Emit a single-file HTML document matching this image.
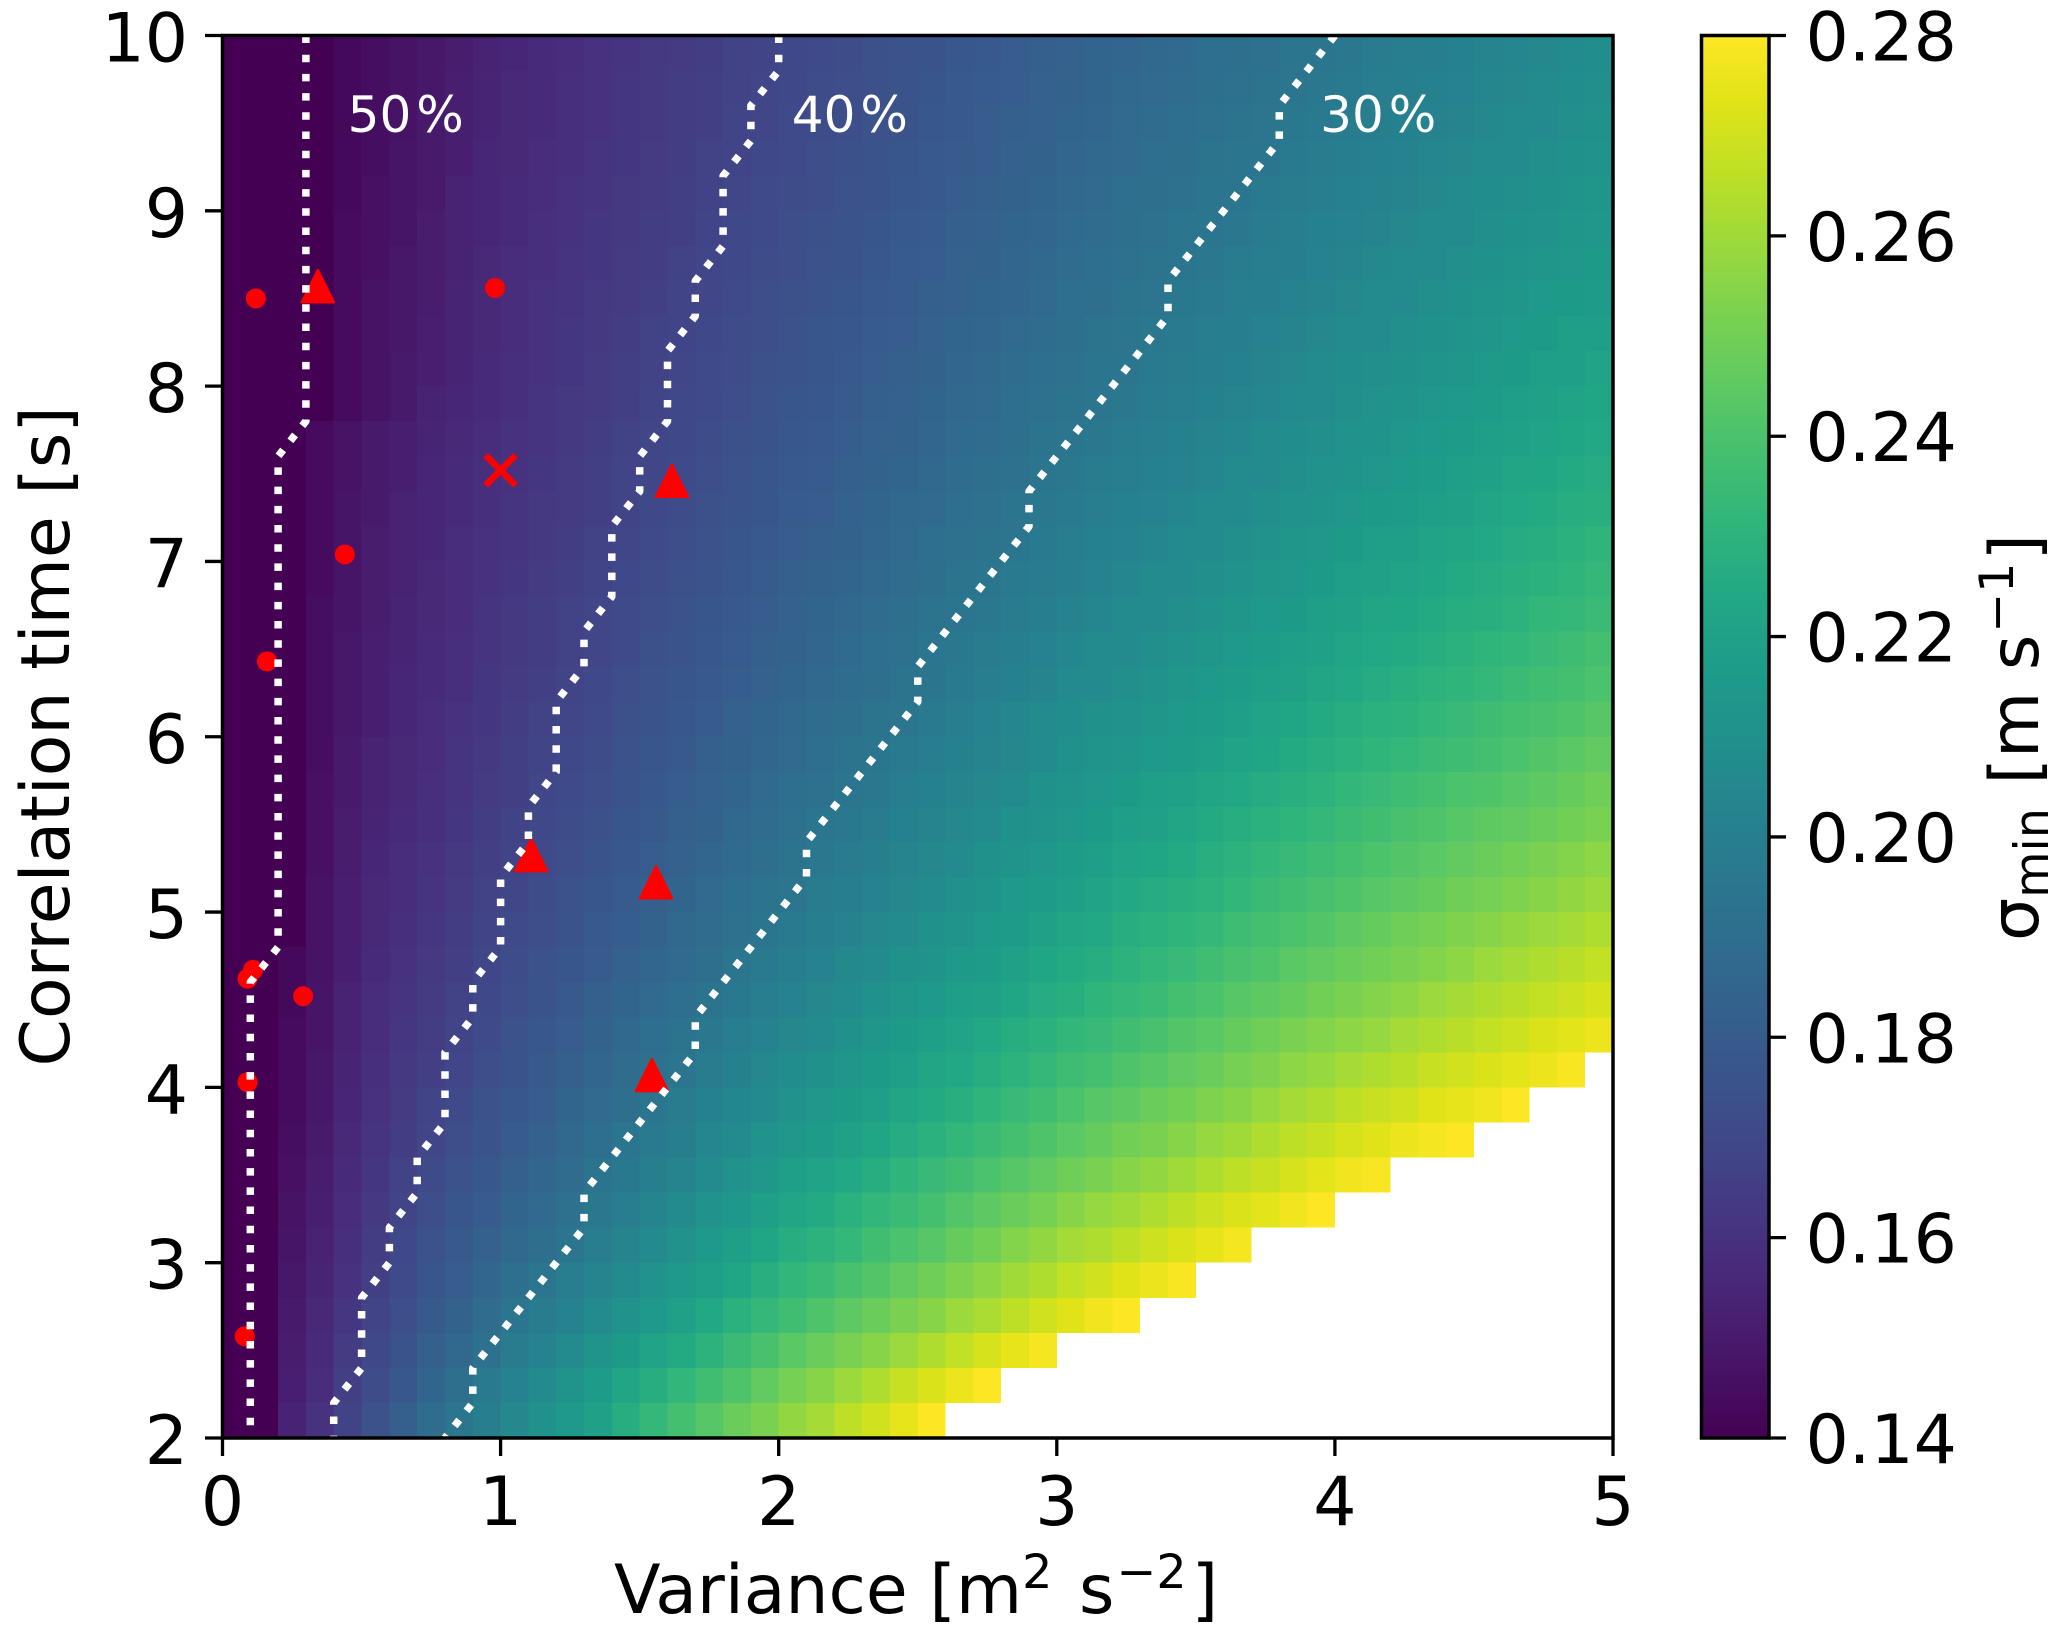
<!DOCTYPE html>
<html lang="en">
<head>
<meta charset="utf-8">
<title>Minimum sigma heatmap</title>
<style>
html,body{margin:0;padding:0;background:#fff;}
svg{display:block;font-family:"DejaVu Sans","Liberation Sans",sans-serif;}
</style>
</head>
<body>
<svg id="chart" xmlns="http://www.w3.org/2000/svg" width="2067" height="1637" viewBox="0 0 2067 1637">
  <rect x="0" y="0" width="2067" height="1637" fill="#fff"/>
  <defs>
    <linearGradient id="viridis-gradient" x1="0" y1="1" x2="0" y2="0"></linearGradient>
    <clipPath id="plot-clip"><rect x="222.5" y="35.5" width="1390.5" height="1402.5"/></clipPath>
  </defs>
  <g id="heatmap" shape-rendering="crispEdges"></g>
  <g id="markers" clip-path="url(#plot-clip)"></g>
  <g id="contours" clip-path="url(#plot-clip)"></g>
  <g id="contour-labels"></g>
  <rect x="222.5" y="35.5" width="1390.5" height="1402.5" fill="none" stroke="#000" stroke-width="3.5"/>
  <g id="x-axis"></g>
  <g id="y-axis"></g>
  <text x="614" y="1613" font-size="68" fill="#000">Variance [m<tspan font-size="47.6" dy="-25">2</tspan><tspan dy="25" dx="5"> s</tspan><tspan font-size="47.6" dy="-25" dx="2">−2</tspan><tspan dy="25" dx="5">]</tspan></text>
  <text transform="translate(69,1066.5) rotate(-90)" font-size="68" fill="#000">Correlation time [s]</text>
  <rect x="1701.5" y="35.5" width="67.5" height="1402.5" fill="url(#viridis-gradient)" stroke="#000" stroke-width="3.5"/>
  <g id="colorbar-axis"></g>
  <text transform="translate(2038,941) rotate(-90)" font-size="68" fill="#000">σ<tspan font-size="47.6" dy="10">min</tspan><tspan dy="-10" dx="2"> [m s</tspan><tspan font-size="47.6" dy="-25" dx="2">−1</tspan><tspan dy="25" dx="2">]</tspan></text>
</svg>
<script>
const varianceTicks = [0, 1, 2, 3, 4, 5];
const correlationTicks = [2, 3, 4, 5, 6, 7, 8, 9, 10];
const colorbarTicks = [0.14, 0.16, 0.18, 0.20, 0.22, 0.24, 0.26, 0.28];
const varianceBinStart = 0;
const varianceBinWidth = 0.1;
const correlationBinHeight = 0.2;
const correlationBinStarts = [9.8,9.6,9.4,9.2,9,8.8,8.6,8.4,8.2,8,7.8,7.6,7.4,7.2,7,6.8,6.6,6.4,6.2,6,5.8,5.6,5.4,5.2,5,4.8,4.6,4.4,4.2,4,3.8,3.6,3.4,3.2,3,2.8,2.6,2.4,2.2,2];
/* sigma_min in 10^-3 m/s, one row per correlation-time bin, top row first; short rows = no data */
const sigmaMinRows = [
[140,140,140,140,143,145,147,149,151,153,155,157,158,160,161,163,164,165,167,168,170,171,172,174,175,176,178,179,181,182,183,185,186,187,188,190,191,192,194,195,196,198,199,200,201,203,204,205,206,208],
[140,140,140,140,143,145,147,149,152,154,156,157,159,160,162,163,165,166,167,169,170,172,173,174,176,177,179,180,181,183,184,185,187,188,189,191,192,193,195,196,197,199,200,201,202,204,205,206,208,209],
[140,140,140,140,143,145,147,150,152,154,156,157,159,160,162,163,165,166,168,169,171,172,173,175,176,178,179,181,182,183,185,186,188,189,190,192,193,195,196,197,198,200,201,202,203,205,206,207,209,210],
[140,140,140,140,143,145,148,150,152,155,156,158,159,161,162,164,165,167,168,170,171,173,174,176,177,179,180,181,183,184,186,187,188,190,191,193,194,195,197,198,200,201,202,204,205,206,207,209,210,211],
[140,140,140,140,143,146,148,150,153,155,157,158,160,161,163,164,166,167,169,171,172,173,175,176,178,179,181,182,184,185,187,188,190,191,192,194,195,197,198,199,201,202,203,205,206,208,209,210,212,213],
[140,140,140,140,144,146,148,151,153,155,157,159,160,162,163,165,166,168,170,171,173,174,176,177,179,180,182,183,185,186,188,189,191,192,194,195,196,198,199,201,202,203,205,206,207,209,210,211,213,214],
[140,140,140,140,144,146,149,151,153,156,158,159,161,162,164,165,167,169,170,172,173,175,176,178,180,181,183,184,186,187,189,190,192,193,195,196,198,199,200,202,203,205,206,207,209,210,212,213,214,216],
[140,140,140,140,144,147,149,151,154,156,158,160,161,163,164,166,168,169,171,173,174,176,177,179,180,182,183,185,186,188,190,191,193,194,196,197,199,200,202,203,205,206,207,209,210,212,213,215,216,217],
[140,140,140,140,144,147,149,152,154,156,158,160,162,163,165,167,168,170,172,173,175,177,178,180,181,183,185,186,188,189,191,193,194,196,197,199,200,202,203,205,206,207,209,210,212,213,215,216,218,219],
[140,140,140,140,144,147,150,152,154,157,159,160,162,164,166,167,169,171,172,174,176,177,179,181,182,184,186,187,189,190,192,194,195,197,198,200,201,203,205,206,208,209,210,212,213,215,216,218,219,221],
[140,140,140,140,144,147,150,153,155,157,159,161,163,164,166,168,170,171,173,175,177,178,180,182,183,185,187,188,190,192,193,195,196,198,199,201,203,204,206,207,209,211,212,214,215,217,218,220,221,223],
[140,140,140,144,147,150,152,154,156,158,160,161,163,165,167,169,170,172,174,176,178,179,181,183,184,186,188,189,191,193,195,196,198,199,201,203,204,206,208,209,211,212,214,215,217,218,220,221,223,224],
[140,140,140,144,147,150,152,155,157,159,160,162,164,166,168,169,171,173,175,177,179,180,182,184,185,187,189,191,192,194,196,198,199,201,202,204,206,207,209,211,212,214,215,217,219,220,222,223,225,226],
[140,140,140,144,148,150,153,155,157,159,161,163,164,166,168,170,172,174,176,177,180,181,183,185,187,188,190,192,194,196,197,199,201,202,204,206,207,209,211,212,214,216,217,219,220,222,224,225,227,228],
[140,140,140,144,148,151,153,155,158,160,161,163,165,167,169,171,173,175,177,179,181,182,184,186,188,190,192,193,195,197,199,201,202,204,206,207,209,211,213,214,216,218,219,221,222,224,226,227,229,231],
[140,140,140,144,148,151,153,156,158,160,162,164,166,168,170,172,174,176,178,180,182,184,185,187,189,191,193,195,197,198,200,202,204,206,207,209,211,213,214,216,218,220,221,223,225,226,228,229,231,233],
[140,140,140,145,148,151,154,156,158,161,163,165,167,169,171,173,175,177,179,181,183,185,187,189,191,193,194,196,198,200,202,204,206,207,209,211,213,215,216,218,220,222,223,225,227,228,230,232,233,235],
[140,140,140,145,149,152,154,157,159,161,163,165,167,169,171,174,176,178,180,182,184,186,188,190,192,194,196,198,200,202,204,206,207,209,211,213,215,217,218,220,222,224,225,227,229,231,232,234,236,238],
[140,140,140,145,149,152,155,157,159,162,164,166,168,170,173,175,177,179,181,183,185,187,189,191,193,195,197,199,201,203,206,207,209,211,213,215,217,219,220,222,224,226,228,230,231,233,235,237,238,240],
[140,140,140,145,149,152,155,158,160,162,165,167,169,171,174,176,178,180,183,185,187,189,191,193,195,197,199,202,204,206,208,210,211,213,215,217,219,221,223,225,227,229,230,232,234,236,238,239,241,243],
[140,140,140,145,150,153,156,158,161,163,166,168,170,172,175,177,179,182,184,186,188,190,193,195,197,199,201,203,205,207,210,212,213,215,217,219,221,223,225,227,229,231,233,235,236,238,240,242,244,246],
[140,140,140,146,150,153,156,159,161,164,166,169,171,173,176,178,181,183,185,188,190,192,194,196,199,201,203,205,207,210,212,214,216,218,220,222,224,226,228,230,232,234,236,238,240,241,243,245,247,249],
[140,140,140,146,151,154,157,159,162,165,167,170,172,174,177,179,182,184,187,189,192,194,196,198,201,203,205,207,210,212,214,216,218,220,222,225,227,229,231,233,235,237,239,241,243,245,246,248,250,252],
[140,140,140,146,151,155,158,160,163,166,168,171,173,176,178,181,183,186,188,191,193,196,198,200,203,205,207,210,212,214,217,219,221,223,225,228,230,232,234,236,238,240,242,244,246,248,250,252,254,256],
[140,140,140,147,152,156,158,161,164,167,169,172,175,177,180,182,185,188,190,193,195,198,200,202,205,207,210,212,215,217,219,221,224,226,228,230,232,235,237,239,241,243,245,247,249,251,253,255,257,259],
[140,140,140,147,152,156,159,162,165,168,171,173,176,179,181,184,187,189,192,195,197,200,202,205,207,210,212,215,217,220,222,224,227,229,231,233,236,238,240,242,245,247,249,251,253,255,257,259,261,263],
[140,140,143,147,152,157,160,163,166,169,172,175,177,180,183,186,188,191,194,197,200,202,205,207,210,212,215,217,220,223,225,227,230,232,234,237,239,241,244,246,248,250,252,254,256,259,261,263,265,267],
[140,140,143,148,153,158,161,164,167,170,173,176,179,182,185,188,190,193,196,199,202,205,207,210,213,215,218,220,223,226,228,231,233,235,238,240,243,245,247,250,252,254,256,259,261,263,265,267,269,271],
[140,140,144,148,153,158,162,165,168,171,175,178,181,184,187,190,193,196,199,202,205,207,210,213,216,218,221,224,227,229,232,234,237,239,242,244,247,249,252,254,256,258,261,263,265,267,269,272,274,276],
[140,140,144,149,154,159,163,166,169,173,176,179,182,186,189,192,195,198,201,205,208,210,213,216,219,222,224,227,230,233,236,238,241,243,246,248,251,253,256,258,261,263,265,268,270,272,274,276,279],
[140,140,144,149,155,160,164,168,171,175,178,181,185,188,191,194,198,201,204,207,211,214,216,219,222,225,228,231,234,237,240,243,245,248,250,253,255,258,261,263,266,268,270,273,275,277,280],
[140,140,145,150,156,161,165,169,173,176,180,183,187,190,194,197,200,204,207,211,214,217,220,223,226,229,232,235,238,241,244,247,250,252,255,258,260,263,266,268,271,273,276,278,280],
[140,140,146,151,157,162,167,171,175,178,182,186,189,193,196,200,203,207,211,214,218,221,224,227,231,234,237,240,243,246,249,252,255,257,260,263,266,268,271,274,277,279],
[140,140,147,152,158,163,168,173,177,180,185,188,192,196,199,203,207,211,214,218,222,225,229,232,235,238,242,245,248,251,255,258,260,263,266,269,272,274,277,280],
[140,140,148,153,159,165,170,175,179,183,187,191,195,199,203,207,211,215,219,223,227,230,233,237,240,243,247,250,254,257,261,263,266,269,272,275,278],
[140,140,149,154,160,166,171,177,181,186,190,194,199,203,207,211,215,219,223,228,232,235,239,242,246,249,253,256,260,263,267,270,273,276,279],
[140,140,150,156,162,168,173,179,184,189,194,198,202,207,211,215,220,224,229,233,237,241,245,248,252,255,259,262,266,270,273,277,280],
[140,140,151,157,164,170,176,182,187,192,198,202,207,212,216,221,225,230,235,239,244,248,252,255,259,263,267,271,275,278],
[140,140,152,158,166,172,178,185,191,197,202,207,212,217,222,227,232,237,241,246,251,255,259,263,268,272,276,280],
[140,140,153,160,167,175,182,189,195,200,205,210,215,220,227,233,238,243,248,252,257,261,266,270,275,280]
];
const contour50Variance = [0.3,0.3,0.2,0.2,0.1,0.1];
const contour50Time = [10,7.8,7.6,4.8,4.6,2];
const contour40Variance = [2,2,1.9,1.9,1.8,1.8,1.7,1.7,1.6,1.6,1.5,1.5,1.4,1.4,1.3,1.3,1.2,1.2,1.1,1.1,1,1,0.9,0.9,0.8,0.8,0.7,0.7,0.6,0.6,0.5,0.5,0.4,0.4];
const contour40Time = [10,9.8,9.6,9.4,9.2,8.8,8.6,8.4,8.2,7.8,7.6,7.4,7.2,6.8,6.6,6.4,6.2,5.8,5.6,5.4,5.2,4.8,4.6,4.4,4.2,3.8,3.6,3.4,3.2,3,2.8,2.4,2.2,2];
const contour30Variance = [4,3.8,3.8,3.4,3.4,2.9,2.9,2.5,2.5,2.1,2.1,1.7,1.7,1.3,1.3,0.9,0.9,0.8];
const contour30Time = [10,9.6,9.4,8.6,8.4,7.4,7.2,6.4,6.2,5.4,5.2,4.4,4.2,3.4,3.2,2.4,2.2,2];
const contourLabels = ["50", "40", "30"];
const contourLabelVariance = [0.45, 2.047, 3.947];
const contourLabelTime = [9.45, 9.45, 9.45];
const circleVariance = [0.12, 0.98, 0.44, 0.16, 0.29, 0.09, 0.11, 0.09, 0.08];
const circleTime = [8.5, 8.56, 7.04, 6.43, 4.52, 4.62, 4.67, 4.03, 2.58];
const triangleVariance = [0.343, 1.616, 1.11, 1.559, 1.544];
const triangleTime = [8.57, 7.46, 5.325, 5.17, 4.07];
const crossVariance = [1.0];
const crossTime = [7.52];
const viridisStops = ["#440154","#471365","#482475","#463480","#414487","#3b528b","#355f8d","#2f6c8e","#2a788e","#25848e","#21918c","#1e9c89","#22a884","#2fb47c","#44bf70","#5ec962","#7ad151","#9bd93c","#bddf26","#dfe318","#fde725"];

const SVGNS = "http://www.w3.org/2000/svg";
function xScale(v){ return 222.5 + 278.1 * v; }
function yScale(v){ return 1438 - 175.31 * (v - 2); }
function cbScale(v){ return 1438 - (v - 0.14) / 0.14 * 1402.5; }
function hexToRgb(h){ return [parseInt(h.slice(1,3),16),parseInt(h.slice(3,5),16),parseInt(h.slice(5,7),16)]; }
function viridis(t){
  const c = Math.max(0, Math.min(1, t)) * (viridisStops.length - 1);
  const i = Math.min(Math.floor(c), viridisStops.length - 2);
  const f = c - i;
  const a = hexToRgb(viridisStops[i]), b = hexToRgb(viridisStops[i + 1]);
  return "rgb(" + a.map(function(v, k){ return Math.round(v + (b[k] - v) * f); }).join(",") + ")";
}
function make(tag, attrs, parent){
  const el = document.createElementNS(SVGNS, tag);
  for (const k in attrs) el.setAttribute(k, attrs[k]);
  parent.appendChild(el);
  return el;
}

/* colorbar gradient */
const gradient = document.getElementById("viridis-gradient");
viridisStops.forEach(function(c, i){
  make("stop", {offset: i / (viridisStops.length - 1), "stop-color": c}, gradient);
});

/* heatmap */
const heatmap = document.getElementById("heatmap");
sigmaMinRows.forEach(function(row, r){
  const y0 = correlationBinStarts[r];
  row.forEach(function(value, c){
    const x0 = varianceBinStart + c * varianceBinWidth;
    const px0 = xScale(x0), px1 = xScale(x0 + varianceBinWidth);
    const py1 = yScale(y0), py0 = yScale(y0 + correlationBinHeight);
    const cell = make("rect", {x: px0, y: py0, width: px1 - px0, height: py1 - py0, fill: viridis((value / 1000 - 0.14) / 0.14)}, heatmap);
    
    
  });
});

/* markers */
const markers = document.getElementById("markers");
circleVariance.forEach(function(v, i){
  const m = make("circle", {cx: xScale(v), cy: yScale(circleTime[i]), r: 10, fill: "#ff0000"}, markers);
  
  
});
triangleVariance.forEach(function(v, i){
  const cx = xScale(v), cy = yScale(triangleTime[i]);
  const pts = [[cx, cy - 16], [cx - 16, cy + 16], [cx + 16, cy + 16]].map(function(p){ return p.join(","); }).join(" ");
  const m = make("polygon", {points: pts, fill: "#ff0000", stroke: "#ff0000", "stroke-width": 2.5, "stroke-linejoin": "round"}, markers);
  
  
});
crossVariance.forEach(function(v, i){
  const cx = xScale(v), cy = yScale(crossTime[i]);
  const s = 15;
  const d = "M" + (cx - s) + " " + (cy - s) + "L" + (cx + s) + " " + (cy + s) + "M" + (cx - s) + " " + (cy + s) + "L" + (cx + s) + " " + (cy - s);
  const m = make("path", {d: d, fill: "none", stroke: "#ff0000", "stroke-width": 6.5}, markers);
  
  
});

/* contours */
const contours = document.getElementById("contours");
function drawContour(xs, ys){
  const d = xs.map(function(v, i){ return (i ? "L" : "M") + xScale(v).toFixed(1) + " " + yScale(ys[i]).toFixed(1); }).join("");
  return make("path", {d: d, fill: "none", stroke: "#fff", "stroke-width": 7.5, "stroke-dasharray": "7.5 11.7", "stroke-linejoin": "round"}, contours);
}
const line50 = drawContour(contour50Variance, contour50Time);


const line40 = drawContour(contour40Variance, contour40Time);


const line30 = drawContour(contour30Variance, contour30Time);



const labelGroup = document.getElementById("contour-labels");
contourLabels.forEach(function(t, i){
  const lab = make("text", {x: xScale(contourLabelVariance[i]), y: yScale(contourLabelTime[i]), "font-size": 50, fill: "#fff"}, labelGroup);
  
  
  lab.appendChild(document.createTextNode(t));
  const pct = make("tspan", {dx: 5}, lab);
  pct.textContent = "%";
});

/* x axis */
const xAxis = document.getElementById("x-axis");
varianceTicks.forEach(function(v){
  const px = xScale(v);
  const tick = make("line", {x1: px, x2: px, y1: 1438, y2: 1456, stroke: "#000", "stroke-width": 3.3}, xAxis);
  
  
  const lab = make("text", {x: px, y: 1525, "font-size": 68, "text-anchor": "middle", fill: "#000"}, xAxis);
  
  
  lab.textContent = String(v);
});

/* y axis */
const yAxis = document.getElementById("y-axis");
correlationTicks.forEach(function(v){
  const py = yScale(v);
  const tick = make("line", {x1: 205, x2: 222.5, y1: py, y2: py, stroke: "#000", "stroke-width": 3.3}, yAxis);
  
  
  const lab = make("text", {x: 188, y: py + 26, "font-size": 68, "text-anchor": "end", fill: "#000"}, yAxis);
  
  
  lab.textContent = String(v);
});

/* colorbar axis */
const cbAxis = document.getElementById("colorbar-axis");
colorbarTicks.forEach(function(v){
  const py = cbScale(v);
  const tick = make("line", {x1: 1769, x2: 1786, y1: py, y2: py, stroke: "#000", "stroke-width": 3.3}, cbAxis);
  
  
  const lab = make("text", {x: 1805.5, y: py + 25, "font-size": 68, fill: "#000"}, cbAxis);
  
  
  lab.textContent = v.toFixed(2);
});
</script>
</body>
</html>
